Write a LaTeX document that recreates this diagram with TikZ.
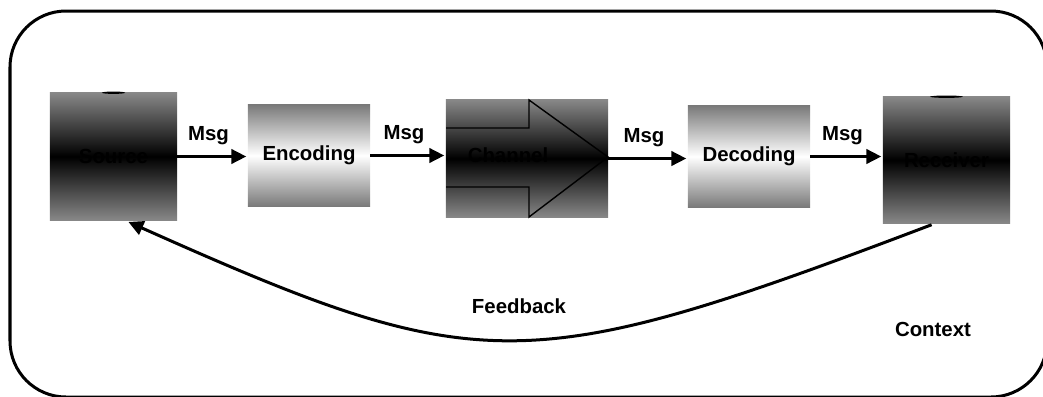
\documentclass[tikz,border=0pt]{standalone}
\usepackage{fontspec}
\setmainfont{Liberation Sans}
\usetikzlibrary{arrows.meta}

\begin{document}
\begin{tikzpicture}[x=0.025cm,y=-0.025cm,
    every node/.style={font=\fontsize{14.5}{17}\selectfont\bfseries},
    darkbox/.style={top color=black!47,bottom color=black!47,middle color=black,inner sep=0pt},
    lightbox/.style={top color=black!52,bottom color=black!52,middle color=white,inner sep=0pt},
    msg/.style={-{Triangle[length=0.375cm,width=0.36cm]},line width=0.075cm}]
  \useasboundingbox (0,0) rectangle (1043,396);
  % context frame
  \begin{scope}
    \clip (0,0) rectangle (1043,396);
    \draw[line width=0.075cm,rounded corners=1.4cm] (10,11) rectangle (1047,397);
  \end{scope}
  % boxes
  \node[darkbox,minimum width=3.175cm,minimum height=3.175cm] (source) at (113.5,156.5) {Source};
  \node[lightbox,minimum width=3.05cm,minimum height=2.525cm] (encoding) at (309,155.5) {Encoding};
  \node[darkbox,minimum width=4.05cm,minimum height=2.925cm] (channel) at (527,158.5) {};
  \node[lightbox,minimum width=3.05cm,minimum height=2.525cm] (decoding) at (749,156.5) {Decoding};
  \node[darkbox,minimum width=3.175cm,minimum height=3.15cm] (receiver) at (946.5,160) {Receiver};
  \fill (source.north) ellipse [x radius=0.29cm,y radius=0.03cm];
  \fill (receiver.north) ellipse [x radius=0.41cm,y radius=0.03cm];
  % channel arrow
  \draw[line width=0.035cm] (446,128) -- (529,128) -- (529,100) -- (608,157)
    -- (529,217) -- (529,187) -- (446,187);
  \node (chantext) at (508,155) {Channel};
  % messages
  \foreach \a/\b in {source/encoding, encoding/channel, channel/decoding, decoding/receiver}
    \draw[msg,shorten >=1pt] (\a.east) -- node[above=4pt,xshift=-0.1cm] {Msg} (\a.east -| \b.west);
  % feedback
  \draw[msg,shorten <=0.1cm,shorten >=0.1cm] (receiver.-100) .. controls (525,379) and (480,379) .. (source.-80);
  \node (feedback) at (519,306) {Feedback};
  \node (context) at (933,329) {Context};
\end{tikzpicture}
\end{document}
